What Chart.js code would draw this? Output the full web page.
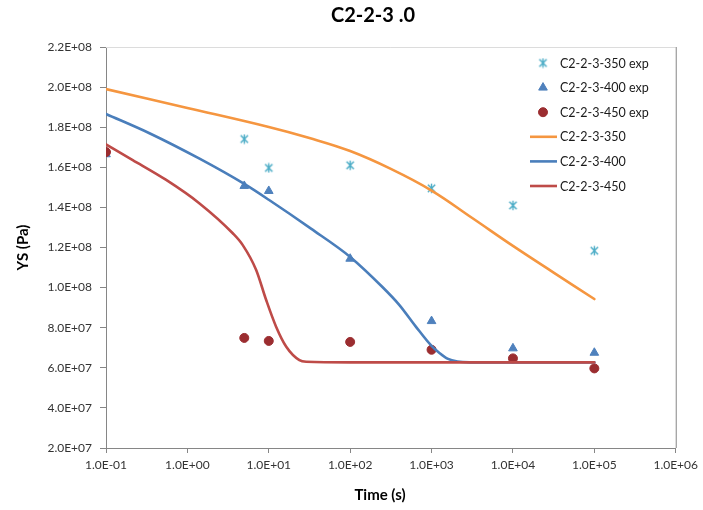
<!DOCTYPE html>
<html>
<head>
<meta charset="utf-8">
<script src="https://cdn.jsdelivr.net/npm/chart.js@4.4.1/dist/chart.umd.min.js"></script>
<style>
  html, body { margin: 0; padding: 0; background: #ffffff; }
  #wrap { width: 703px; height: 510px; }
</style>
</head>
<body>
<div id="wrap"><canvas id="c" width="703" height="510"></canvas></div>
<script>
// ---- text ----
const chartTitle = 'C2-2-3 .0';
const xAxisTitle = 'Time (s)';
const yAxisTitle = 'YS (Pa)';

// ---- axis ticks ----
const xTickValues = [0.1, 1, 10, 100, 1000, 10000, 100000, 1000000];
const yTickValues = [2e7, 4e7, 6e7, 8e7, 1e8, 1.2e8, 1.4e8, 1.6e8, 1.8e8, 2e8, 2.2e8];

// ---- series labels ----
const seriesLabels = [
  'C2-2-3-350 exp', 'C2-2-3-400 exp', 'C2-2-3-450 exp',
  'C2-2-3-350', 'C2-2-3-400', 'C2-2-3-450'
];

// ---- measured yield strength (Pa) ----
const time350Exp = [5, 10, 100, 1000, 10000, 100000];
const ys350Exp   = [1.741e8, 1.597e8, 1.610e8, 1.495e8, 1.410e8, 1.184e8];

const time400Exp = [0.1, 5, 10, 100, 1000, 10000, 100000];
const ys400Exp   = [1.665e8, 1.507e8, 1.482e8, 1.144e8, 0.833e8, 0.697e8, 0.675e8];

const time450Exp = [0.1, 5, 10, 100, 1000, 10000, 100000];
const ys450Exp   = [1.676e8, 0.749e8, 0.734e8, 0.729e8, 0.690e8, 0.647e8, 0.597e8];

// ---- model curves (Pa) ----
const time350 = [0.1, 1, 10, 31.6, 100, 316, 1000, 3162, 10000, 31623, 100000];
const ys350   = [1.990e8, 1.896e8, 1.801e8, 1.746e8, 1.681e8, 1.592e8, 1.484e8, 1.347e8, 1.208e8, 1.075e8, 0.943e8];

const time400 = [0.1, 0.342, 1.41, 5, 10, 33, 100, 249, 403, 634, 1000, 1250, 1567, 2080, 2924, 10000, 100000];
const ys400   = [1.866e8, 1.770e8, 1.643e8, 1.517e8, 1.438e8, 1.294e8, 1.153e8, 1.003e8, 0.913e8, 0.808e8, 0.709e8, 0.674e8, 0.646e8, 0.631e8, 0.627e8, 0.627e8, 0.627e8];

const time450 = [0.1, 0.213, 0.549, 1.41, 3.61, 4.79, 7.0, 9.29, 12.3, 16.4, 23.8, 28.8, 100, 1000, 10000, 100000];
const ys450   = [1.714e8, 1.636e8, 1.537e8, 1.420e8, 1.271e8, 1.212e8, 1.088e8, 0.938e8, 0.805e8, 0.705e8, 0.638e8, 0.630e8, 0.627e8, 0.627e8, 0.627e8, 0.627e8];

// ---- colours ----
const cStar = '#4BACC6';
const cTri = '#4F81BD';
const cDot = '#9B2D30';
const cOrange = '#F59640';
const cBlue = '#4A7EBB';
const cRed = '#BE4B48';
const axisColor = '#868686';
const textColor = '#333333';

function pairs(xs, ys) { return xs.map((x, i) => ({ x: x, y: ys[i] })); }

function sci(v) {
  const parts = v.toExponential(1).split('e');
  const n = parseInt(parts[1], 10);
  return parts[0] + 'E' + (n < 0 ? '-' : '+') + String(Math.abs(n)).padStart(2, '0');
}

// asterisk marker: an X crossed by a vertical stroke
function makeStar(color, size) {
  const c = document.createElement('canvas');
  c.width = size; c.height = size;
  const g = c.getContext('2d');
  const h = size / 2, r = size / 2 - 0.8, d = r * 0.78;
  g.strokeStyle = color;
  g.lineWidth = 1.4;
  g.lineCap = 'butt';
  g.beginPath();
  g.moveTo(h - d, h - d); g.lineTo(h + d, h + d);
  g.moveTo(h + d, h - d); g.lineTo(h - d, h + d);
  g.moveTo(h, h - r); g.lineTo(h, h + r);
  g.stroke();
  return c;
}
const starImg = makeStar(cStar, 11);

const lineCommon = {
  showLine: true, pointRadius: 0, pointHoverRadius: 0, borderWidth: 2.6,
  cubicInterpolationMode: 'monotone', fill: false, borderCapStyle: 'round'
};

const datasets = [
  { label: seriesLabels[0], data: pairs(time350Exp, ys350Exp), pointStyle: starImg, pointRadius: 5,
    backgroundColor: cStar, borderColor: cStar, order: 5 },
  { label: seriesLabels[1], data: pairs(time400Exp, ys400Exp), pointStyle: 'triangle', pointRadius: 5,
    backgroundColor: cTri, borderColor: cTri, borderWidth: 1, order: 4 },
  { label: seriesLabels[2], data: pairs(time450Exp, ys450Exp), pointStyle: 'circle', pointRadius: 4.5,
    backgroundColor: cDot, borderColor: cDot, borderWidth: 1, order: 3 },
  Object.assign({ label: seriesLabels[3], data: pairs(time350, ys350), borderColor: cOrange, backgroundColor: cOrange, order: 2 },
    lineCommon, { cubicInterpolationMode: 'default', tension: 0.4 }),
  Object.assign({ label: seriesLabels[4], data: pairs(time400, ys400), borderColor: cBlue, backgroundColor: cBlue, order: 1 }, lineCommon),
  Object.assign({ label: seriesLabels[5], data: pairs(time450, ys450), borderColor: cRed, backgroundColor: cRed, order: 0 }, lineCommon)
];

// chart title, x-axis title, plot frame and the in-plot legend
const decorations = {
  id: 'decorations',
  afterDraw(chart) {
    const ctx = chart.ctx;
    const area = chart.chartArea;
    ctx.save();
    // frame
    ctx.lineWidth = 1;
    ctx.strokeStyle = '#dcdcdc';
    ctx.beginPath();
    ctx.moveTo(area.left, area.top + 0.5); ctx.lineTo(area.right, area.top + 0.5);
    ctx.stroke();
    ctx.strokeStyle = axisColor;
    ctx.beginPath();
    ctx.moveTo(area.right + 0.5, area.top); ctx.lineTo(area.right + 0.5, area.bottom);
    ctx.stroke();

    // titles
    ctx.fillStyle = '#000000';
    ctx.textAlign = 'center';
    ctx.textBaseline = 'middle';
    ctx.font = 'bold 20px Lato';
    ctx.fillText(chartTitle, 373, 16);
    ctx.font = 'bold 15px Lato';
    ctx.fillText(xAxisTitle, 380, 495);

    // legend
    const x0 = 543, y0 = 63, dy = 24.6;
    ctx.font = '12.5px Lato';
    ctx.textAlign = 'left';
    chart.data.datasets.forEach((ds, i) => {
      const y = y0 + i * dy;
      if (ds.showLine) {
        ctx.strokeStyle = ds.borderColor;
        ctx.lineWidth = 2.6;
        ctx.lineCap = 'butt';
        ctx.beginPath();
        ctx.moveTo(530, y); ctx.lineTo(557, y);
        ctx.stroke();
      } else {
        ctx.fillStyle = ds.backgroundColor;
        ctx.strokeStyle = ds.borderColor;
        ctx.lineWidth = ds.borderWidth || 1;
        Chart.helpers.drawPoint(ctx, { pointStyle: ds.pointStyle, radius: ds.pointRadius, rotation: 0, borderWidth: ds.borderWidth || 1 }, x0, y);
      }
      ctx.fillStyle = '#1a1a1a';
      ctx.fillText(ds.label, 560, y + 0.5);
    });
    ctx.restore();
  }
};

new Chart(document.getElementById('c'), {
  type: 'scatter',
  data: { datasets: datasets },
  plugins: [decorations],
  options: {
    responsive: false,
    animation: false,
    devicePixelRatio: 1,
    layout: { padding: { top: 47, right: 27, left: 0, bottom: 0 } },
    plugins: { legend: { display: false }, title: { display: false }, tooltip: { enabled: false } },
    scales: {
      x: {
        type: 'logarithmic',
        min: 0.1, max: 1000000,
        afterBuildTicks(scale) { scale.ticks = xTickValues.map(v => ({ value: v })); },
        afterFit(scale) { scale.height = 62; },
        grid: { drawOnChartArea: false, drawTicks: true, tickLength: 5, color: axisColor },
        border: { display: true, color: axisColor, width: 1 },
        ticks: {
          autoSkip: false, maxRotation: 0, padding: 5,
          color: textColor, font: { family: 'Lato', size: 12 },
          callback: (v) => sci(v)
        }
      },
      y: {
        type: 'linear',
        min: 2e7, max: 2.2e8,
        afterBuildTicks(scale) { scale.ticks = yTickValues.map(v => ({ value: v })); },
        afterFit(scale) { scale.width = 106; },
        grid: { drawOnChartArea: false, drawTicks: true, tickLength: 6, color: axisColor },
        border: { display: true, color: axisColor, width: 1 },
        title: {
          display: true, text: yAxisTitle, color: '#000000',
          font: { family: 'Lato', size: 15, weight: 'bold' },
          padding: { top: 14, bottom: 0 }
        },
        ticks: {
          autoSkip: false, padding: 8,
          color: textColor, font: { family: 'Lato', size: 12 },
          callback: (v) => sci(v)
        }
      }
    }
  }
});
</script>
</body>
</html>
